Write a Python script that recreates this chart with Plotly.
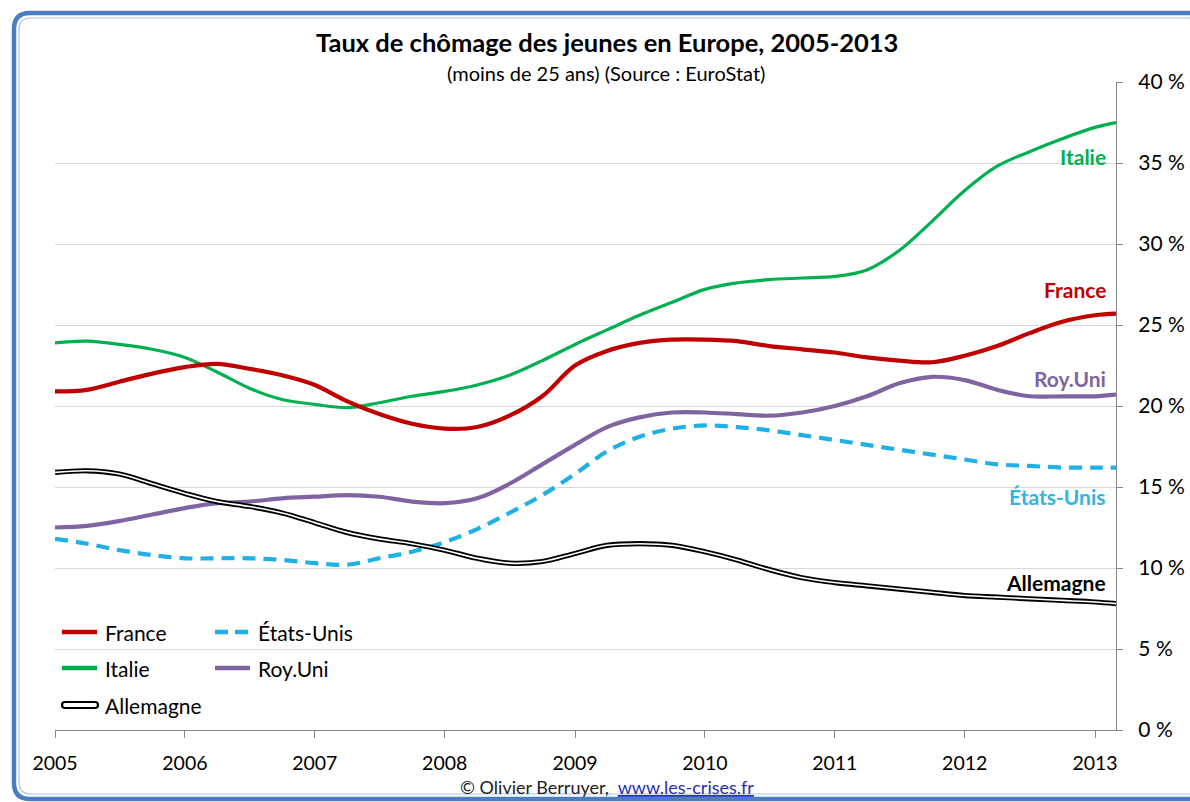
import pandas as pd
import plotly.graph_objects as go

# ---------------- data ----------------
dates = [d.strftime("%Y-%m-%d") for d in pd.date_range("2005-01-01", "2013-01-01", freq="QS")] + ["2013-03-01"]

france = [20.9, 21.0, 21.5, 22.0, 22.4, 22.6, 22.3, 21.9, 21.3, 20.3, 19.5, 18.9, 18.6, 18.7, 19.4, 20.6,
          22.5, 23.4, 23.9, 24.1, 24.1, 24.0, 23.7, 23.5, 23.3, 23.0, 22.8, 22.7, 23.1, 23.7, 24.5, 25.2, 25.6, 25.7]
italie = [23.9, 24.0, 23.8, 23.5, 23.0, 22.1, 21.1, 20.4, 20.1, 19.9, 20.2, 20.6, 20.9, 21.3, 21.9, 22.8,
          23.8, 24.7, 25.6, 26.4, 27.2, 27.6, 27.8, 27.9, 28.0, 28.4, 29.6, 31.4, 33.3, 34.8, 35.7, 36.5, 37.2, 37.5]
royuni = [12.5, 12.6, 12.9, 13.3, 13.7, 14.0, 14.1, 14.3, 14.4, 14.5, 14.4, 14.1, 14.0, 14.3, 15.2, 16.4,
          17.6, 18.7, 19.3, 19.6, 19.6, 19.5, 19.4, 19.6, 20.0, 20.6, 21.4, 21.8, 21.6, 21.0, 20.6, 20.6, 20.6, 20.7]
etats_unis = [11.8, 11.5, 11.1, 10.8, 10.6, 10.6, 10.6, 10.5, 10.3, 10.2, 10.6, 11.0, 11.6, 12.4, 13.4, 14.5,
              15.8, 17.2, 18.1, 18.6, 18.8, 18.7, 18.5, 18.2, 17.9, 17.6, 17.3, 17.0, 16.7, 16.4, 16.3, 16.2, 16.2, 16.2]
allemagne = [15.9, 16.0, 15.8, 15.2, 14.6, 14.1, 13.8, 13.4, 12.8, 12.2, 11.8, 11.5, 11.1, 10.6, 10.3, 10.4,
             10.9, 11.4, 11.5, 11.4, 11.0, 10.5, 9.9, 9.4, 9.1, 8.9, 8.7, 8.5, 8.3, 8.2, 8.1, 8.0, 7.9, 7.8]

title = "Taux de chômage des jeunes en Europe, 2005-2013"
subtitle = "(moins de 25 ans) (Source : EuroStat)"
y_ticks = [0, 5, 10, 15, 20, 25, 30, 35, 40]
y_ticktext = [f"{v} %" for v in y_ticks]

# ---------------- styles ----------------
FONT = "Lato"
C_FR = "#C00000"
C_IT = "#00B050"
C_UK = "#8064A2"
C_US = "#1FB1E6"
C_DE = "#000000"

# plot area in pixels
W, H = 1190, 802
L, R, T, B = 55, 1116, 82, 730


def px(x):
    return (x - L) / (R - L)


def py(y):
    return (B - y) / (B - T)


fig = go.Figure()

fig.add_trace(go.Scatter(x=dates, y=italie, mode="lines", name="Italie",
                         line=dict(color=C_IT, width=3.2, shape="spline", smoothing=1.0)))
fig.add_trace(go.Scatter(x=dates, y=france, mode="lines", name="France",
                         line=dict(color=C_FR, width=4.2, shape="spline", smoothing=1.0)))
fig.add_trace(go.Scatter(x=dates, y=royuni, mode="lines", name="Roy.Uni",
                         line=dict(color=C_UK, width=4.2, shape="spline", smoothing=1.0)))
fig.add_trace(go.Scatter(x=dates, y=etats_unis, mode="lines", name="États-Unis",
                         line=dict(color=C_US, width=4.2, dash="13px,8px", shape="spline", smoothing=1.0)))
fig.add_trace(go.Scatter(x=dates, y=allemagne, mode="lines", name="Allemagne",
                         line=dict(color=C_DE, width=5.2, shape="spline", smoothing=1.0)))
fig.add_trace(go.Scatter(x=dates, y=allemagne, mode="lines", name="Allemagne_inner",
                         line=dict(color="#FFFFFF", width=1.6, shape="spline", smoothing=1.0)))

for tr in fig.data:
    tr.showlegend = False
    tr.hoverinfo = "skip"

# ---------------- series labels ----------------
labels = [("Italie", 35.4, C_IT), ("France", 27.2, C_FR), ("Roy.Uni", 21.7, C_UK),
          ("États-Unis", 14.4, "#31B4E4"), ("Allemagne", 9.1, "#000000")]
for txt, yv, col in labels:
    fig.add_annotation(x=px(1108), xref="paper", y=yv, yref="y", text=f"<b>{txt}</b>",
                       showarrow=False, xanchor="right", yanchor="middle",
                       font=dict(family=FONT, size=21, color=col))

# ---------------- manual legend ----------------
shapes = []
leg = [("France", 62, 632, C_FR, "solid"), ("États-Unis", 215, 632, C_US, "dash"),
       ("Italie", 62, 668, C_IT, "solid"), ("Roy.Uni", 215, 668, C_UK, "solid")]
for txt, x0, yy, col, dsh in leg:
    if dsh == "dash":
        shapes.append(dict(type="line", xref="paper", yref="paper", x0=px(x0), x1=px(x0 + 13),
                           y0=py(yy), y1=py(yy), line=dict(color=col, width=4.5)))
        shapes.append(dict(type="line", xref="paper", yref="paper", x0=px(x0 + 20), x1=px(x0 + 33),
                           y0=py(yy), y1=py(yy), line=dict(color=col, width=4.5)))
    else:
        shapes.append(dict(type="line", xref="paper", yref="paper", x0=px(x0), x1=px(x0 + 35),
                           y0=py(yy), y1=py(yy), line=dict(color=col, width=4.5)))
    fig.add_annotation(x=px(x0 + 41), xref="paper", y=py(yy), yref="paper", text=txt,
                       showarrow=False, xanchor="left", yanchor="middle",
                       font=dict(family=FONT, size=21, color="#000000"))
# Allemagne legend swatch (double line)
ax0, ax1, ay = 62, 98, 705
r = 3
shapes.append(dict(type="path", xref="paper", yref="paper",
                   path=(f"M {px(ax0 + r)} {py(ay - r)} L {px(ax1 - r)} {py(ay - r)} "
                         f"Q {px(ax1)} {py(ay - r)} {px(ax1)} {py(ay)} "
                         f"Q {px(ax1)} {py(ay + r)} {px(ax1 - r)} {py(ay + r)} "
                         f"L {px(ax0 + r)} {py(ay + r)} "
                         f"Q {px(ax0)} {py(ay + r)} {px(ax0)} {py(ay)} "
                         f"Q {px(ax0)} {py(ay - r)} {px(ax0 + r)} {py(ay - r)} Z"),
                   line=dict(color="#000000", width=2.2), fillcolor="#FFFFFF"))
fig.add_annotation(x=px(ax0 + 41), xref="paper", y=py(ay), yref="paper", text="Allemagne",
                   showarrow=False, xanchor="left", yanchor="middle",
                   font=dict(family=FONT, size=21, color="#000000"))

# ---------------- border (rounded frame) ----------------
def rounded(x0, y0, x1, y1, rad):
    return (f"M {px(x0 + rad)} {py(y0)} L {px(x1 - rad)} {py(y0)} "
            f"Q {px(x1)} {py(y0)} {px(x1)} {py(y0 + rad)} "
            f"L {px(x1)} {py(y1 - rad)} "
            f"Q {px(x1)} {py(y1)} {px(x1 - rad)} {py(y1)} "
            f"L {px(x0 + rad)} {py(y1)} "
            f"Q {px(x0)} {py(y1)} {px(x0)} {py(y1 - rad)} "
            f"L {px(x0)} {py(y0 + rad)} "
            f"Q {px(x0)} {py(y0)} {px(x0 + rad)} {py(y0)} Z")


shapes.append(dict(type="path", xref="paper", yref="paper", layer="below",
                   path=rounded(14, 13, 1205, 799, 16), line=dict(color="#4A7EC2", width=4.5)))
shapes.append(dict(type="path", xref="paper", yref="paper", layer="below",
                   path=rounded(19, 18, 1200, 794, 12), line=dict(color="#A9C3E6", width=1.2)))

# ---------------- titles / footer ----------------
fig.add_annotation(x=px(607), xref="paper", y=py(42), yref="paper", text=f"<b>{title}</b>",
                   showarrow=False, xanchor="center", yanchor="middle",
                   font=dict(family=FONT, size=25.5, color="#000000"))
fig.add_annotation(x=px(606), xref="paper", y=py(73), yref="paper", text=subtitle,
                   showarrow=False, xanchor="center", yanchor="middle",
                   font=dict(family=FONT, size=20, color="#000000"))
fig.add_annotation(x=px(607), xref="paper", y=py(787), yref="paper",
                   text=("© Olivier Berruyer,  <span style='color:#2B2BB5;text-decoration:underline'>"
                         "www.les-crises.fr</span>"),
                   showarrow=False, xanchor="center", yanchor="middle",
                   font=dict(family=FONT, size=18, color="#222222"))

fig.update_layout(
    width=W, height=H,
    margin=dict(l=L, r=W - R, t=T, b=H - B, pad=0, autoexpand=False),
    paper_bgcolor="#FFFFFF", plot_bgcolor="#FFFFFF",
    showlegend=False,
    shapes=shapes,
    hovermode=False,
    font=dict(family=FONT, color="#000000"),
)
fig.update_xaxes(
    type="date", range=["2005-01-01", "2013-03-01"], automargin=False,
    tickformat="%Y", dtick="M12", tick0="2005-01-01",
    showgrid=False, showline=True, linecolor="#868686", linewidth=1.3,
    ticks="outside", ticklen=7, tickcolor="#868686", tickwidth=1.3,
    ticklabelstandoff=8,
    tickfont=dict(family=FONT, size=19.5, color="#000000"),
    zeroline=False,
)
fig.update_yaxes(
    range=[0, 40], side="right", tickmode="array", tickvals=y_ticks, ticktext=y_ticktext,
    automargin=False,
    showgrid=True, gridcolor="#D9D9D9", gridwidth=1,
    showline=True, linecolor="#868686", linewidth=1.3,
    ticks="outside", ticklen=6, tickcolor="#868686", tickwidth=1.3,
    ticklabelstandoff=11,
    tickfont=dict(family=FONT, size=21, color="#000000"),
    zeroline=False,
)

fig.write_html("out.html", config={"displayModeBar": False},
               post_script="document.body.style.margin='0';document.body.style.overflow='hidden';")
